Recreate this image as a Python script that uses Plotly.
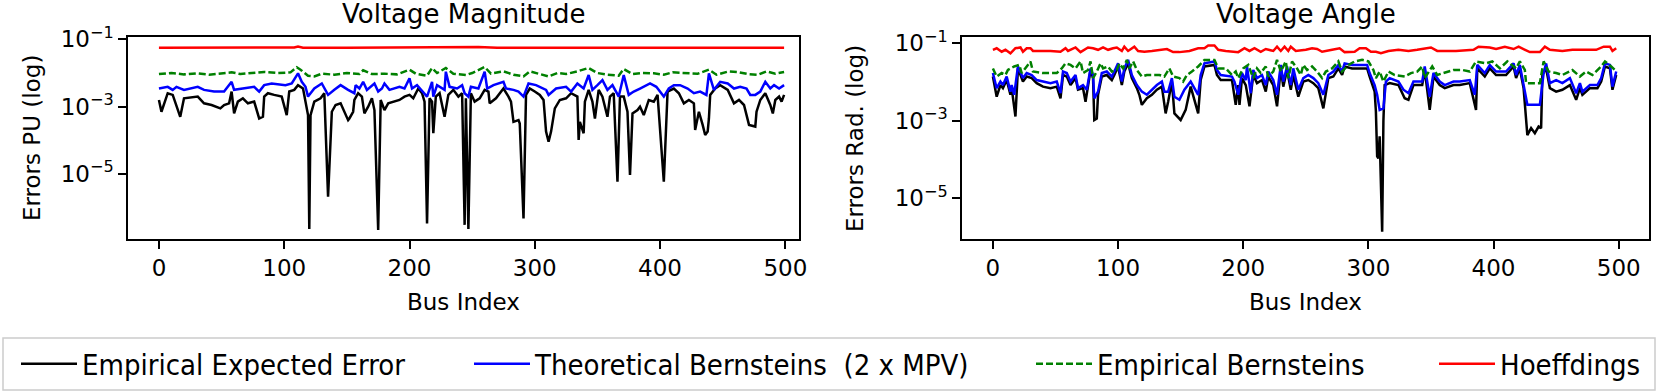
import plotly.graph_objects as go

# ---- Voltage Magnitude (left): bus index + log10(error) ----
vm_emp_bus = [0, 2, 7, 11, 17, 20, 31, 36, 42, 46, 49, 52, 56, 58, 60, 63, 67, 71, 76, 80, 83, 84, 87, 92, 98,
              102, 104, 108, 111, 115, 119, 120, 121, 124, 129, 132, 135, 138, 141, 145, 149, 151, 152, 155,
              156, 159, 162, 164, 167, 170, 172, 175, 177, 180, 183, 187, 192, 196, 200, 203, 207, 210, 212,
              214, 216, 218, 219, 221, 224, 228, 231, 235, 239, 242, 244, 245, 247, 249, 252, 256, 260, 263,
              264, 269, 275, 279, 281, 283, 287, 288, 291, 293, 296, 300, 304, 307, 309, 311, 313, 316, 320,
              325, 329, 334, 335, 336, 339, 340, 343, 346, 348, 351, 354, 358, 360, 363, 366, 368, 371, 374,
              376, 378, 382, 384, 387, 391, 395, 398, 403, 406, 411, 415, 419, 423, 427, 428, 431, 434, 436,
              438, 439, 440, 444, 448, 454, 459, 463, 467, 469, 471, 476, 477, 480, 484, 488, 490, 492, 495,
              497, 499]
vm_emp_log = [-2.80, -3.15, -2.60, -2.65, -3.30, -2.75, -2.70, -2.90, -2.95, -3.00, -3.05, -2.95, -2.90, -2.55,
              -3.20, -2.85, -2.75, -2.90, -2.85, -3.35, -3.30, -2.70, -2.60, -2.65, -2.70, -3.25, -2.55, -2.50,
              -2.36, -2.46, -3.25, -6.63, -3.25, -2.85, -2.75, -2.60, -5.67, -3.15, -2.95, -2.90, -3.20, -3.40,
              -3.35, -3.15, -2.80, -2.60, -2.70, -3.20, -3.00, -2.75, -3.10, -6.66, -2.80, -3.10, -2.90, -2.85,
              -2.80, -2.70, -2.65, -2.75, -2.46, -2.60, -2.85, -6.47, -2.75, -2.85, -3.79, -2.70, -2.60, -3.30,
              -2.65, -2.50, -2.70, -2.60, -6.51, -2.75, -6.63, -2.60, -2.85, -2.75, -2.50, -2.55, -2.90, -2.75,
              -2.46, -2.70, -2.85, -3.45, -3.40, -3.50, -6.32, -2.65, -2.46, -2.55, -2.65, -2.80, -3.74, -4.04,
              -3.74, -3.05, -2.80, -2.75, -2.60, -2.70, -3.99, -3.45, -3.79, -2.85, -2.50, -2.85, -3.35, -2.50,
              -2.70, -3.30, -2.70, -2.60, -5.23, -2.70, -2.70, -3.15, -5.03, -3.20, -3.10, -3.00, -3.25, -2.80,
              -2.85, -2.65, -5.23, -2.55, -2.46, -2.60, -2.90, -2.80, -2.90, -3.69, -3.15, -3.54, -3.84, -3.74,
              -3.35, -2.65, -2.46, -2.36, -2.50, -2.90, -2.80, -2.95, -3.25, -3.54, -3.59, -3.15, -2.80, -2.60,
              -2.95, -3.20, -2.80, -2.70, -2.85, -2.65]

vm_theo_bus = [0, 7, 11, 14, 20, 26, 31, 36, 44, 52, 58, 60, 68, 76, 80, 84, 90, 101, 106, 111, 114, 117, 119,
               124, 130, 135, 140, 145, 151, 156, 157, 160, 163, 166, 172, 175, 178, 180, 184, 192, 196, 200,
               202, 206, 214, 216, 218, 219, 222, 228, 229, 232, 238, 242, 244, 247, 249, 255, 260, 262, 267,
               275, 277, 283, 287, 291, 295, 301, 309, 311, 317, 325, 329, 334, 339, 343, 346, 350, 354, 358,
               362, 367, 371, 375, 379, 384, 392, 397, 403, 407, 411, 416, 422, 427, 432, 437, 439, 443, 448,
               454, 459, 464, 469, 472, 476, 480, 484, 488, 491, 495, 497, 499]
vm_theo_log = [-2.46, -2.41, -2.50, -2.41, -2.50, -2.46, -2.41, -2.50, -2.55, -2.55, -2.26, -2.50, -2.46, -2.41,
               -2.55, -2.36, -2.31, -2.36, -2.31, -2.01, -2.26, -2.41, -2.70, -2.46, -2.31, -2.65, -2.50, -2.36,
               -2.50, -2.60, -2.36, -2.46, -2.26, -2.50, -2.31, -2.55, -2.46, -2.31, -2.50, -2.41, -2.46, -2.16,
               -2.46, -2.36, -2.70, -2.46, -2.26, -2.70, -2.36, -2.50, -1.96, -2.41, -2.46, -2.36, -2.60, -2.70,
               -2.41, -2.46, -1.96, -2.46, -2.36, -2.26, -2.46, -2.50, -2.55, -2.70, -2.31, -2.36, -2.50, -2.65,
               -2.46, -2.41, -2.55, -2.31, -2.46, -2.06, -2.50, -2.36, -2.21, -2.50, -2.36, -2.70, -2.06, -2.65,
               -2.55, -2.46, -2.31, -2.41, -2.70, -2.46, -2.36, -2.36, -2.46, -2.60, -2.55, -2.65, -2.01, -2.50,
               -2.26, -2.31, -2.46, -2.41, -2.46, -2.65, -2.65, -2.55, -2.26, -2.46, -2.36, -2.46, -2.41, -2.36]

vm_empb_bus = [0, 10, 20, 30, 40, 50, 58, 65, 75, 84, 95, 105, 110, 113, 119, 124, 130, 140, 150, 160, 163, 170,
               180, 190, 200, 205, 214, 218, 222, 229, 235, 245, 250, 260, 265, 275, 283, 291, 296, 305, 311,
               318, 325, 334, 343, 350, 358, 367, 371, 378, 385, 395, 403, 410, 420, 430, 439, 445, 455, 462,
               470, 478, 485, 492, 499]
vm_empb_log = [-2.03, -2.00, -2.04, -2.01, -2.05, -2.02, -1.98, -2.03, -2.00, -1.97, -2.00, -1.98, -1.83, -1.90,
               -2.08, -2.10, -2.02, -2.05, -2.00, -2.03, -1.92, -2.03, -2.02, -2.04, -1.90, -2.02, -2.08, -1.85,
               -2.00, -1.85, -2.02, -2.06, -2.00, -1.82, -2.02, -1.95, -2.05, -2.10, -1.95, -2.05, -2.10, -2.00,
               -2.03, -1.95, -1.85, -2.00, -2.05, -2.08, -1.88, -2.03, -2.00, -2.01, -2.05, -1.98, -2.00, -2.02,
               -1.90, -2.05, -1.95, -1.97, -2.03, -2.05, -1.95, -2.02, -1.97]

vm_hoef_bus = [0, 30, 60, 90, 108, 111, 115, 150, 200, 230, 255, 270, 300, 330, 350, 380, 410, 440, 470, 499]
vm_hoef_log = [-1.25, -1.25, -1.25, -1.25, -1.24, -1.21, -1.25, -1.25, -1.24, -1.25, -1.23, -1.25, -1.25,
               -1.24, -1.24, -1.26, -1.25, -1.25, -1.25, -1.25]

# ---- Voltage Angle (right) ----
va_emp_bus = [0, 3, 6, 8, 11, 14, 15, 18, 20, 24, 27, 31, 35, 40, 46, 51, 54, 56, 59, 62, 66, 68, 72, 74, 78,
              80, 81, 83, 84, 87, 91, 95, 97, 100, 103, 105, 108, 111, 115, 117, 119, 123, 127, 131, 135, 138,
              140, 143, 145, 150, 154, 158, 164, 166, 169, 177, 179, 182, 191, 192, 194, 196, 197, 199, 202,
              205, 208, 211, 215, 218, 220, 224, 227, 230, 232, 235, 238, 240, 244, 248, 252, 256, 260, 264,
              268, 272, 276, 279, 281, 287, 292, 299, 301, 305, 306, 307, 308, 309, 311, 312, 313, 317, 324,
              329, 332, 336, 339, 343, 345, 349, 352, 357, 361, 368, 373, 381, 386, 387, 393, 397, 402, 410,
              416, 418, 421, 424, 427, 430, 433, 436, 438, 439, 442, 445, 450, 455, 461, 466, 469, 471, 477,
              483, 486, 489, 493, 495, 498]
va_emp_log = [-1.86, -2.38, -2.08, -2.16, -1.95, -2.33, -2.16, -2.89, -1.65, -1.99, -1.86, -1.90, -2.03, -2.12,
              -2.16, -2.12, -2.42, -1.82, -1.86, -2.08, -1.90, -2.20, -2.16, -2.51, -1.69, -1.90, -2.98, -2.94,
              -2.33, -1.86, -1.82, -1.95, -1.82, -1.60, -2.08, -1.73, -1.52, -1.90, -2.16, -2.33, -2.59, -2.42,
              -2.33, -2.20, -2.12, -2.81, -2.51, -1.99, -2.81, -2.98, -2.72, -2.12, -2.81, -1.95, -1.60, -1.56,
              -1.82, -1.95, -1.95, -2.16, -2.59, -2.08, -2.59, -1.90, -2.08, -2.63, -1.82, -2.03, -1.95, -2.25,
              -1.86, -2.08, -2.63, -1.65, -2.12, -1.69, -2.20, -1.82, -2.38, -1.99, -1.95, -2.03, -2.16, -2.68,
              -1.90, -1.86, -1.65, -1.82, -1.60, -1.65, -1.65, -1.65, -1.86, -2.25, -2.76, -3.92, -3.97, -3.40,
              -5.86, -3.00, -2.08, -2.03, -2.08, -2.42, -2.46, -2.08, -2.08, -2.08, -1.69, -2.72, -1.86, -2.08,
              -2.16, -2.08, -2.08, -2.03, -2.72, -1.65, -1.86, -1.65, -1.82, -1.82, -1.60, -1.90, -1.65, -2.16,
              -3.37, -3.19, -3.32, -3.15, -3.19, -1.82, -1.65, -2.16, -2.25, -2.20, -2.08, -2.46, -2.16, -2.33,
              -2.16, -2.16, -1.99, -1.60, -1.65, -2.20, -1.82]

va_theo_bus = [0, 3, 6, 8, 11, 14, 15, 17, 20, 24, 27, 31, 35, 40, 46, 51, 54, 56, 59, 62, 66, 68, 72, 75, 78,
               80, 81, 84, 87, 91, 95, 97, 100, 103, 105, 108, 111, 115, 119, 123, 127, 131, 135, 137, 140, 143,
               145, 149, 153, 158, 164, 166, 169, 177, 179, 182, 191, 193, 196, 199, 202, 203, 206, 208, 211,
               215, 218, 220, 224, 227, 230, 232, 235, 238, 240, 244, 248, 252, 256, 260, 264, 268, 272, 276,
               279, 281, 287, 292, 299, 301, 305, 307, 309, 312, 314, 317, 324, 328, 332, 336, 339, 343, 345,
               349, 352, 357, 361, 368, 373, 381, 385, 387, 393, 397, 402, 410, 416, 418, 421, 424, 427, 437,
               440, 442, 445, 450, 455, 461, 466, 469, 471, 477, 483, 486, 489, 493, 495, 498]
va_theo_log = [-1.77, -2.16, -1.99, -2.08, -1.86, -2.25, -2.08, -2.33, -1.60, -1.90, -1.77, -1.82, -1.95, -1.99,
               -2.03, -1.99, -2.29, -1.73, -1.77, -1.99, -1.82, -2.16, -2.08, -2.20, -1.65, -1.82, -2.42, -2.25,
               -1.77, -1.73, -1.86, -1.73, -1.52, -1.99, -1.65, -1.43, -1.82, -2.08, -2.25, -2.33, -2.20, -2.08,
               -1.99, -2.25, -2.25, -1.90, -2.38, -2.46, -2.20, -1.99, -2.33, -1.82, -1.52, -1.47, -1.69, -1.82,
               -1.86, -1.99, -2.33, -1.77, -1.95, -1.60, -2.29, -1.69, -1.90, -1.82, -2.08, -1.73, -1.95, -2.33,
               -1.56, -1.99, -1.60, -2.08, -1.65, -2.20, -1.90, -1.82, -1.90, -2.03, -2.33, -1.82, -1.73, -1.56,
               -1.73, -1.52, -1.56, -1.56, -1.56, -1.77, -2.08, -2.33, -2.72, -2.68, -1.99, -1.90, -1.99, -2.20,
               -2.29, -1.99, -1.99, -1.99, -1.60, -2.38, -1.77, -1.99, -2.08, -1.99, -1.99, -1.95, -2.33, -1.56,
               -1.77, -1.56, -1.73, -1.73, -1.52, -1.82, -1.56, -2.08, -2.59, -2.59, -1.77, -1.52, -2.03, -1.95,
               -2.03, -1.90, -2.29, -2.03, -2.25, -2.08, -2.08, -1.90, -1.52, -1.56, -2.12, -1.73]

va_empb_bus = [0, 3, 7, 10, 12, 17, 21, 23, 27, 30, 32, 40, 51, 55, 58, 62, 66, 70, 72, 76, 78, 80, 83, 86, 88,
               92, 95, 99, 101, 104, 107, 109, 112, 115, 119, 123, 128, 133, 137, 141, 144, 149, 152, 155, 159,
               164, 169, 177, 180, 186, 191, 194, 196, 200, 204, 208, 211, 214, 218, 220, 224, 227, 230, 234,
               236, 239, 243, 246, 248, 251, 255, 259, 263, 266, 271, 276, 279, 284, 289, 295, 300, 304, 306,
               309, 312, 316, 321, 329, 334, 339, 343, 345, 351, 355, 360, 368, 375, 381, 386, 394, 399, 405,
               411, 418, 421, 425, 426, 437, 440, 444, 450, 455, 463, 469, 474, 479, 486, 489, 494, 497, 498]
va_empb_log = [-1.65, -1.86, -1.77, -1.82, -1.69, -1.60, -1.56, -1.77, -1.60, -1.47, -1.73, -1.77, -1.77, -1.65,
               -1.52, -1.56, -1.65, -1.47, -1.77, -1.69, -1.47, -1.90, -1.73, -1.52, -1.65, -1.60, -1.73, -1.69,
               -1.52, -1.65, -1.43, -1.65, -1.47, -1.69, -1.86, -1.82, -1.82, -1.82, -1.86, -1.65, -1.86, -1.90,
               -1.99, -1.82, -1.73, -1.60, -1.43, -1.43, -1.65, -1.65, -1.82, -1.73, -1.90, -1.65, -1.56, -1.90,
               -1.65, -1.77, -1.60, -1.86, -1.73, -1.43, -1.73, -1.47, -1.90, -1.47, -1.65, -1.82, -1.56, -1.69,
               -1.60, -1.73, -1.90, -1.73, -1.65, -1.47, -1.73, -1.56, -1.47, -1.43, -1.47, -1.69, -1.90, -1.73,
               -1.99, -1.73, -1.82, -1.86, -1.77, -1.73, -1.60, -1.90, -1.60, -1.82, -1.77, -1.69, -1.69, -1.73,
               -1.47, -1.52, -1.47, -1.65, -1.47, -1.65, -1.47, -1.69, -2.03, -2.03, -1.47, -1.73, -1.77, -1.82,
               -1.69, -1.86, -1.73, -1.82, -1.60, -1.47, -1.60, -1.69, -1.65]

va_hoef_bus = [0, 3, 7, 10, 14, 18, 22, 24, 27, 30, 32, 38, 46, 54, 58, 60, 66, 70, 76, 80, 84, 88, 92, 96, 99,
               103, 105, 108, 113, 116, 121, 127, 133, 139, 144, 149, 157, 164, 169, 172, 177, 180, 186, 196,
               201, 205, 209, 214, 218, 224, 227, 230, 233, 236, 238, 242, 250, 255, 259, 263, 271, 277, 281,
               289, 293, 298, 302, 306, 310, 316, 324, 332, 339, 343, 350, 355, 370, 384, 388, 397, 402, 409,
               416, 420, 425, 429, 437, 441, 445, 455, 463, 471, 482, 488, 493, 495, 498]
va_hoef_log = [-1.17, -1.13, -1.22, -1.17, -1.26, -1.13, -1.11, -1.22, -1.13, -1.13, -1.20, -1.20, -1.20, -1.22,
               -1.13, -1.20, -1.11, -1.23, -1.11, -1.13, -1.17, -1.11, -1.17, -1.13, -1.11, -1.20, -1.09, -1.20,
               -1.09, -1.20, -1.22, -1.20, -1.17, -1.15, -1.23, -1.23, -1.20, -1.13, -1.13, -1.06, -1.06, -1.17,
               -1.20, -1.23, -1.13, -1.20, -1.13, -1.22, -1.15, -1.20, -1.09, -1.20, -1.09, -1.20, -1.09, -1.20,
               -1.17, -1.13, -1.15, -1.22, -1.17, -1.13, -1.23, -1.22, -1.13, -1.13, -1.22, -1.22, -1.26, -1.20,
               -1.17, -1.20, -1.17, -1.15, -1.11, -1.20, -1.20, -1.17, -1.09, -1.11, -1.15, -1.09, -1.15, -1.09,
               -1.17, -1.23, -1.23, -1.09, -1.17, -1.20, -1.17, -1.17, -1.17, -1.09, -1.09, -1.20, -1.13]

names = ["Empirical Expected Error", "Theoretical Bernsteins  (2 x MPV)", "Empirical Bernsteins", "Hoeffdings"]
colors = ["black", "blue", "green", "red"]
dashes = ["solid", "solid", "7px,3px", "solid"]
legend_ids = ["legend", "legend2", "legend3", "legend4"]

W, H = 1660, 392
FONT = "DejaVu Sans"
LEG_FONT = "DejaVu Sans Condensed, DejaVu Sans"

fig = go.Figure()

left = [(vm_emp_bus, vm_emp_log), (vm_theo_bus, vm_theo_log), (vm_empb_bus, vm_empb_log), (vm_hoef_bus, vm_hoef_log)]
right = [(va_emp_bus, va_emp_log), (va_theo_bus, va_theo_log), (va_empb_bus, va_empb_log), (va_hoef_bus, va_hoef_log)]

for i, (bx, lg) in enumerate(left):
    fig.add_trace(go.Scatter(x=bx, y=[10 ** v for v in lg], mode="lines", name=names[i],
                             line=dict(color=colors[i], width=2.5, dash=dashes[i]),
                             xaxis="x", yaxis="y", legend=legend_ids[i]))
for i, (bx, lg) in enumerate(right):
    fig.add_trace(go.Scatter(x=bx, y=[10 ** v for v in lg], mode="lines", name=names[i],
                             line=dict(color=colors[i], width=2.5, dash=dashes[i]),
                             xaxis="x2", yaxis="y2", showlegend=False))

ytick_vals = [1e-1, 1e-3, 1e-5]
ytick_text = ["10<sup>−1</sup>", "10<sup>−3</sup>", "10<sup>−5</sup>"]
ax_common = dict(showline=True, linecolor="black", linewidth=1.5, mirror=True, ticks="outside",
                 ticklen=8, tickwidth=1.5, tickcolor="black", showgrid=False, zeroline=False,
                 automargin=False, tickfont=dict(family=FONT, size=23, color="black"))
ydom = [1 - 239 / H, 1 - 37 / H]

fig.update_layout(
    width=W, height=H,
    margin=dict(l=0, r=0, t=0, b=0, pad=0, autoexpand=False),
    paper_bgcolor="white", plot_bgcolor="white",
    font=dict(family=FONT, size=23, color="black"),
    xaxis=dict(domain=[128 / W, 799 / W], range=[-24.7, 510.9], tickvals=[0, 100, 200, 300, 400, 500],
               anchor="y", **ax_common),
    yaxis=dict(domain=ydom, type="log", range=[-6.93, -0.93], tickvals=ytick_vals, ticktext=ytick_text,
               anchor="x", **ax_common),
    xaxis2=dict(domain=[962 / W, 1649 / W], range=[-24.7, 524.2], tickvals=[0, 100, 200, 300, 400, 500],
                anchor="y2", **ax_common),
    yaxis2=dict(domain=ydom, type="log", range=[-6.05, -0.84], tickvals=ytick_vals, ticktext=ytick_text,
                anchor="x2", **ax_common),
)

# one legend per entry so they spread across the bottom like matplotlib's expand mode
leg_x = [16, 469, 1031, 1434]
for lid, lx in zip(legend_ids, leg_x):
    fig.update_layout({lid: dict(x=lx / W, y=1 - 364 / H, xanchor="left", yanchor="middle",
                                 bgcolor="rgba(0,0,0,0)", borderwidth=0, itemwidth=56,
                                 font=dict(family=LEG_FONT, size=29, color="black"))})

fig.add_shape(type="rect", xref="paper", yref="paper", x0=3 / W, x1=1655 / W, y0=1 - 390 / H, y1=1 - 338 / H,
              line=dict(color="#cccccc", width=1.5), fillcolor="rgba(0,0,0,0)")

anns = [
    dict(text="Voltage Magnitude", x=(128 + 799) / 2 / W, y=1 - 14 / H, size=26),
    dict(text="Voltage Angle", x=(962 + 1649) / 2 / W, y=1 - 14 / H, size=26),
    dict(text="Bus Index", x=(128 + 799) / 2 / W, y=1 - 302 / H, size=23),
    dict(text="Bus Index", x=(962 + 1649) / 2 / W, y=1 - 302 / H, size=23),
    dict(text="Errors PU (log)", x=32 / W, y=1 - 138 / H, size=23, textangle=-90),
    dict(text="Errors Rad. (log)", x=855 / W, y=1 - 138 / H, size=23, textangle=-90),
]
for a in anns:
    sz = a.pop("size")
    fig.add_annotation(xref="paper", yref="paper", xanchor="center", yanchor="middle", showarrow=False,
                       font=dict(family=FONT, size=sz, color="black"), **a)

# drop the page's default 8px body margin so the figure sits at the window origin
fig.write_html("out.html", config={"displayModeBar": False},
               post_script="document.body.style.margin='0';document.body.style.overflow='hidden';")
